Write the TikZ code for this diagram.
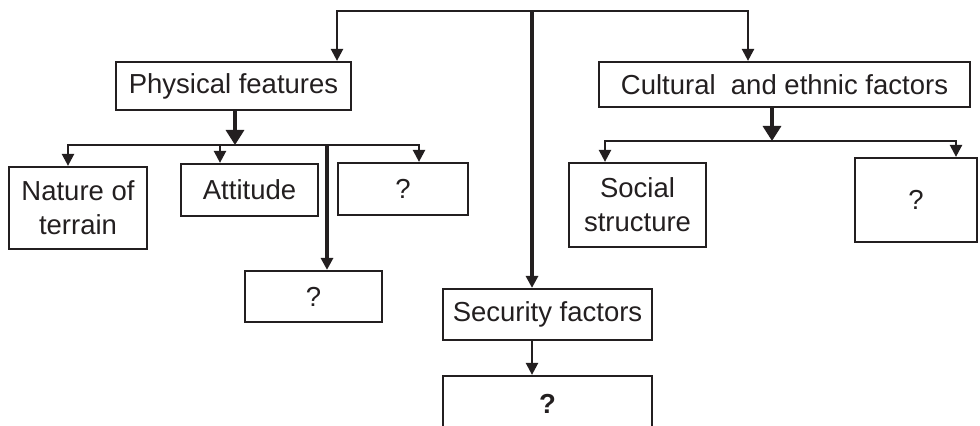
\documentclass[tikz,border=0pt]{standalone}
\usepackage{fontspec}
\setmainfont{Liberation Sans}
\usetikzlibrary{arrows.meta}

\definecolor{ink}{HTML}{231F20}

\tikzset{
  box/.style={draw=ink, line width=1.1pt, inner sep=0pt, align=center,
    text=ink, font=\fontsize{13.75}{17}\selectfont},
  bw/.style={minimum width=#1*0.5pt},
  bh/.style={minimum height=#1*0.5pt},
  link/.style={draw=ink, line width=1.2pt},
  stem/.style={draw=ink, line width=1.6pt},
  tip/.style={-{Triangle[width=6pt,length=6pt]}},
  tips/.style={{Triangle[width=6pt,length=6pt]}-{Triangle[width=6pt,length=6pt]}},
  bigtip/.style={-{Triangle[width=9pt,length=7.5pt]}}
}

\begin{document}
\begin{tikzpicture}[x=0.5pt,y=-0.5pt]

\useasboundingbox (0,0) rectangle (980,426);

%level one
\node[box,bw=235,bh=48] (phys) at (233.5,86) {Physical features};
\node[box,bw=371,bh=45] (cult) at (784.5,84.5) {Cultural\ \ and ethnic factors};
\node[box,bw=209,bh=51] (sec) at (547.5,314.5) {Security factors};

%physical features
\node[box,bw=138,bh=82] (nat) at (78,208) {Nature of\\terrain};
\node[box,bw=137,bh=52] (att) at (249.5,190) {Attitude};
\node[box,bw=130,bh=52] (qa) at (403,189) {?};
\node[box,bw=137,bh=51] (qb) at (313.5,296.5) {?};

%cultural and ethnic factors
\node[box,bw=137,bh=84] (soc) at (637.5,205) {Social\\structure};
\node[box,bw=122,bh=84] (qc) at (916,200) {?};

%security factors
\node[box,bw=209,bh=56] (qd) at (547.5,404) {\textbf{?}};

%top bar
\coordinate (tl) at (337,11);
\coordinate (tm) at (532,11);
\coordinate (tr) at (748,11);
\draw[link,tips] (phys.north -| tl) -- (tl) -- (tr) -- (cult.north -| tr);
\draw[stem,tip] (tm) -- (sec.north -| tm);
\draw[link,tip] (sec.south -| tm) -- (qd.north -| tm);

%physical branches
\coordinate (pj) at (235,145);
\coordinate (pl) at (68,145);
\coordinate (pa) at (220,145);
\coordinate (pq) at (327,145);
\coordinate (pr) at (419,145);
\draw[stem,bigtip] (phys.south -| pj) -- (pj);
\draw[link,tips] (nat.north -| pl) -- (pl) -- (pr) -- (qa.north -| pr);
\draw[link,tip] (pa) -- (att.north -| pa);
\draw[stem,tip] (pq) -- (qb.north -| pq);

%cultural branches
\coordinate (cj) at (772,141);
\coordinate (cl) at (605,141);
\coordinate (cr) at (956,141);
\draw[stem,bigtip] (cult.south -| cj) -- (cj);
\draw[link,tips] (soc.north -| cl) -- (cl) -- (cr) -- (qc.north -| cr);

\end{tikzpicture}
\end{document}
